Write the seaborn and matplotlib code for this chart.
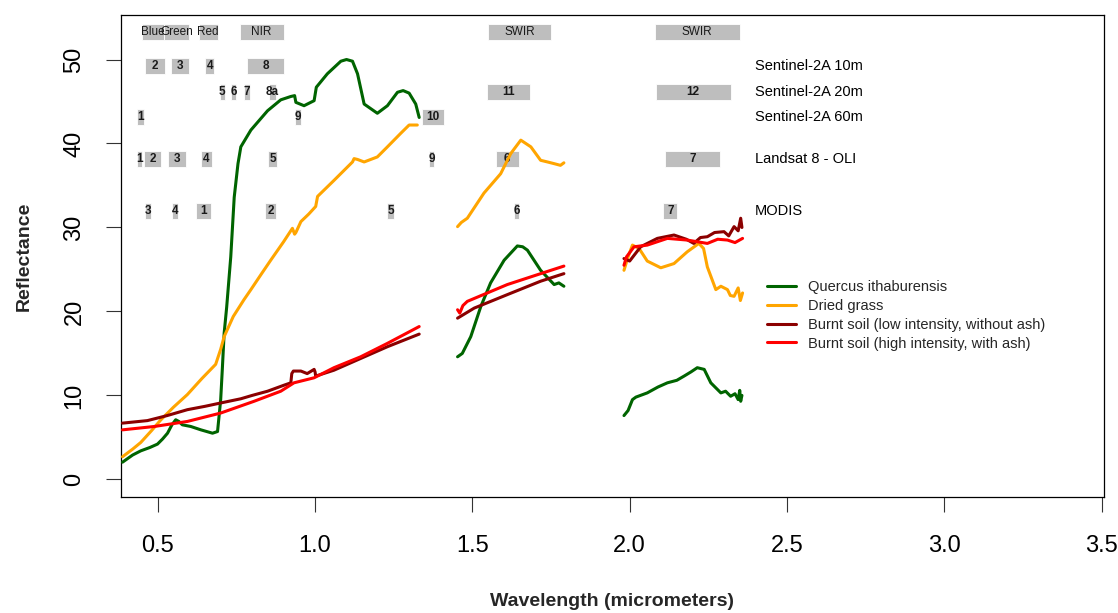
import numpy as np
import pandas as pd
import matplotlib
matplotlib.use("Agg")
import matplotlib.pyplot as plt
from matplotlib.lines import Line2D
import seaborn as sns

# ---------------- data: spectra (wavelength in micrometers, reflectance %) ----------------
quercus_wl1 = [0.388, 0.42, 0.446, 0.475, 0.499, 0.515, 0.531, 0.545, 0.557, 0.567, 0.578, 0.605, 0.637,
               0.674, 0.69, 0.70, 0.705, 0.711, 0.719, 0.732, 0.743, 0.755, 0.764, 0.796, 0.849, 0.891,
               0.923, 0.935, 0.939, 0.965, 0.997, 1.004, 1.039, 1.082, 1.10, 1.119, 1.135, 1.156, 1.198,
               1.23, 1.262, 1.28, 1.299, 1.32, 1.331]
quercus_rf1 = [2.05, 2.9, 3.4, 3.8, 4.2, 4.8, 5.5, 6.5, 7.1, 6.9, 6.5, 6.3, 5.9,
               5.5, 5.7, 9.5, 13.0, 17.4, 20.5, 26.5, 33.6, 37.6, 39.6, 41.6, 43.9, 45.2,
               45.6, 45.7, 44.9, 44.5, 45.1, 46.7, 48.3, 49.8, 50.0, 49.8, 48.3, 44.7, 43.6,
               44.5, 46.1, 46.3, 46.0, 44.7, 43.1]
quercus_wl2 = [1.453, 1.468, 1.495, 1.527, 1.558, 1.601, 1.643, 1.66, 1.675, 1.717, 1.76, 1.775, 1.791]
quercus_rf2 = [14.6, 15.0, 17.0, 20.6, 23.4, 26.1, 27.8, 27.7, 27.3, 24.9, 23.2, 23.4, 23.0]
quercus_wl3 = [1.982, 1.995, 2.009, 2.02, 2.056, 2.09, 2.12, 2.15, 2.173, 2.195, 2.215, 2.237, 2.258,
               2.29, 2.305, 2.321, 2.335, 2.345, 2.35, 2.353, 2.357]
quercus_rf3 = [7.6, 8.2, 9.5, 9.8, 10.3, 11.0, 11.5, 11.8, 12.3, 12.8, 13.3, 13.1, 11.5,
               10.3, 10.5, 9.9, 10.2, 9.5, 10.6, 9.3, 10.0]

grass_wl1 = [0.388, 0.42, 0.446, 0.48, 0.51, 0.55, 0.594, 0.64, 0.684, 0.70, 0.711, 0.74, 0.774, 0.796,
             0.83, 0.859, 0.90, 0.928, 0.935, 0.939, 0.955, 0.98, 1.002, 1.008, 1.06, 1.119, 1.124,
             1.135, 1.156, 1.198, 1.23, 1.272, 1.299, 1.325]
grass_rf1 = [2.7, 3.6, 4.4, 5.8, 7.1, 8.6, 10.1, 12.0, 13.7, 15.5, 17.0, 19.4, 21.4, 22.6,
             24.5, 26.1, 28.3, 29.9, 29.2, 29.4, 30.7, 31.6, 32.5, 33.7, 35.6, 37.8, 38.2,
             38.1, 37.8, 38.4, 39.6, 41.2, 42.2, 42.2]
grass_wl2 = [1.453, 1.465, 1.484, 1.537, 1.59, 1.622, 1.654, 1.686, 1.717, 1.739, 1.76, 1.78, 1.791]
grass_rf2 = [30.1, 30.6, 31.1, 34.1, 36.4, 38.8, 40.4, 39.6, 38.0, 37.8, 37.6, 37.4, 37.7]
grass_wl3 = [1.982, 1.995, 2.009, 2.03, 2.056, 2.099, 2.141, 2.183, 2.22, 2.235, 2.247, 2.274, 2.29,
             2.311, 2.32, 2.332, 2.345, 2.352, 2.359]
grass_rf3 = [24.9, 26.5, 27.9, 27.5, 26.0, 25.2, 25.7, 27.1, 28.1, 27.5, 25.3, 22.6, 23.0,
             22.6, 21.9, 21.8, 22.8, 21.3, 22.2]

low_wl1 = [0.388, 0.467, 0.53, 0.594, 0.65, 0.70, 0.764, 0.80, 0.849, 0.90, 0.923, 0.926, 0.931,
           0.955, 0.975, 0.997, 1.0, 1.002, 1.06, 1.145, 1.23, 1.331]
low_rf1 = [6.7, 7.0, 7.6, 8.3, 8.7, 9.1, 9.6, 10.0, 10.5, 11.2, 11.5, 12.6, 12.9,
           12.9, 12.6, 13.1, 12.8, 12.3, 13.0, 14.4, 15.8, 17.3]
low_wl2 = [1.453, 1.506, 1.611, 1.717, 1.791]
low_rf2 = [19.2, 20.4, 22.0, 23.6, 24.5]
low_wl3 = [1.982, 2.0, 2.035, 2.088, 2.141, 2.18, 2.204, 2.225, 2.247, 2.27, 2.30, 2.315, 2.332,
           2.345, 2.353, 2.357]
low_rf3 = [26.3, 26.0, 27.7, 28.7, 29.1, 28.6, 28.1, 28.8, 28.9, 29.4, 29.5, 29.0, 30.1,
           29.6, 31.1, 30.0]

high_wl1 = [0.388, 0.489, 0.594, 0.70, 0.806, 0.891, 0.933, 0.997, 1.06, 1.145, 1.23, 1.331]
high_rf1 = [5.9, 6.3, 6.9, 7.9, 9.3, 10.5, 11.5, 12.1, 13.3, 14.6, 16.2, 18.2]
high_wl2 = [1.453, 1.46, 1.47, 1.484, 1.611, 1.717, 1.791]
high_rf2 = [20.2, 19.8, 20.7, 21.2, 23.2, 24.5, 25.4]
high_wl3 = [1.982, 1.99, 2.014, 2.056, 2.12, 2.183, 2.247, 2.28, 2.311, 2.335, 2.359]
high_rf3 = [25.5, 26.5, 27.7, 27.9, 28.7, 28.5, 28.1, 28.6, 28.5, 28.2, 28.7]

materials = ["Quercus ithaburensis", "Dried grass",
             "Burnt soil (low intensity, without ash)", "Burnt soil (high intensity, with ash)"]
colors = ["#006400", "#FFA500", "#8B0000", "#FF0000"]

# ---------------- data: sensor bands ----------------
region_labels = ["Blue", "Green", "Red", "NIR", "SWIR", "SWIR"]
region_start = [0.45, 0.52, 0.63, 0.76, 1.55, 2.08]
region_end = [0.52, 0.60, 0.69, 0.90, 1.75, 2.35]

s2_10_labels = ["2", "3", "4", "8"]
s2_10_start = [0.458, 0.543, 0.650, 0.785]
s2_10_end = [0.523, 0.598, 0.680, 0.900]

s2_20_labels = ["5", "6", "7", "8a", "11", "12"]
s2_20_start = [0.698, 0.733, 0.773, 0.855, 1.546, 2.083]
s2_20_end = [0.713, 0.748, 0.793, 0.875, 1.682, 2.321]

s2_60_labels = ["1", "9", "10"]
s2_60_start = [0.435, 0.935, 1.339]
s2_60_end = [0.457, 0.955, 1.410]

l8_labels = ["1", "2", "3", "4", "5", "9", "6", "7"]
l8_start = [0.435, 0.456, 0.533, 0.636, 0.851, 1.362, 1.574, 2.112]
l8_end = [0.449, 0.510, 0.590, 0.673, 0.879, 1.378, 1.648, 2.287]

modis_labels = ["3", "4", "1", "2", "5", "6", "7"]
modis_start = [0.459, 0.545, 0.620, 0.841, 1.230, 1.633, 2.107]
modis_end = [0.479, 0.565, 0.670, 0.876, 1.250, 1.648, 2.152]

sensor_names = ["Sentinel-2A 10m", "Sentinel-2A 20m", "Sentinel-2A 60m", "Landsat 8 - OLI", "MODIS"]
row_levels = [53.3, 49.2, 46.1, 43.2, 38.2, 32.0]   # regions row, then sensors

x_ticks = [0.5, 1.0, 1.5, 2.0, 2.5, 3.0, 3.5]
y_ticks = [0, 10, 20, 30, 40, 50]

# ---------------- build long table ----------------
spectra = {
    materials[0]: [(quercus_wl1, quercus_rf1), (quercus_wl2, quercus_rf2), (quercus_wl3, quercus_rf3)],
    materials[1]: [(grass_wl1, grass_rf1), (grass_wl2, grass_rf2), (grass_wl3, grass_rf3)],
    materials[2]: [(low_wl1, low_rf1), (low_wl2, low_rf2), (low_wl3, low_rf3)],
    materials[3]: [(high_wl1, high_rf1), (high_wl2, high_rf2), (high_wl3, high_rf3)],
}
frames = []
for m, segs in spectra.items():
    for i, (wl, rf) in enumerate(segs):
        frames.append(pd.DataFrame({"wl": wl, "rf": rf, "material": m, "seg": f"{m}-{i}"}))
df = pd.concat(frames, ignore_index=True)

# ---------------- plot ----------------
sns.set_style("white")
plt.rcParams["font.family"] = ["Liberation Sans", "DejaVu Sans"]

fig = plt.figure(figsize=(11.18, 6.13), dpi=100)
ax = fig.add_axes([0.1082, 0.1892, 0.8793, 0.7863])

band_rows = [
    (region_labels, region_start, region_end, row_levels[0], False),
    (s2_10_labels, s2_10_start, s2_10_end, row_levels[1], True),
    (s2_20_labels, s2_20_start, s2_20_end, row_levels[2], True),
    (s2_60_labels, s2_60_start, s2_60_end, row_levels[3], True),
    (l8_labels, l8_start, l8_end, row_levels[4], True),
    (modis_labels, modis_start, modis_end, row_levels[5], True),
]
for labels, starts, ends, lvl, bold in band_rows:
    widths = np.array(ends) - np.array(starts)
    ax.barh([lvl] * len(labels), widths, left=starts, height=1.9, color="#BEBEBE",
            edgecolor="white", linewidth=0.6, zorder=1)
    for lab, s, e in zip(labels, starts, ends):
        ax.text((s + e) / 2, lvl, lab, ha="center", va="center",
                fontsize=8.5, fontweight="bold" if bold else "normal",
                color="#1a1a1a", zorder=2)

for name, lvl in zip(sensor_names, row_levels[1:]):
    ax.text(2.398, lvl, name, ha="left", va="center", fontsize=10.5, color="black", zorder=2)

sns.lineplot(data=df, x="wl", y="rf", hue="material", hue_order=materials,
             palette=colors, units="seg", estimator=None, sort=False,
             linewidth=2.2, legend=False, ax=ax, zorder=3)

ax.set_xlim(0.383, 3.508)
ax.set_ylim(-2.1, 55.3)
ax.set_xticks(x_ticks)
ax.set_xticklabels([f"{t:.1f}" for t in x_ticks])
ax.set_yticks(y_ticks)
ax.set_yticklabels([str(t) for t in y_ticks], rotation=90, va="center")
ax.tick_params(axis="both", direction="out", length=10.5, width=0.8, color="#333333",
               labelsize=17, labelcolor="black")
ax.tick_params(axis="x", pad=17)
ax.tick_params(axis="y", pad=15)
ax.tick_params(left=True, bottom=True)
for sp in ax.spines.values():
    sp.set_visible(True)
    sp.set_color("black")
    sp.set_linewidth(0.9)

ax.set_xlabel("Wavelength (micrometers)", fontsize=14, fontweight="bold", labelpad=26)
ax.set_ylabel("Reflectance", fontsize=14, fontweight="bold", labelpad=22)

handles = [Line2D([0], [0], color=c, lw=2.2) for c in colors]
ax.legend(handles, materials, loc="upper left", bbox_to_anchor=(0.657, 0.45),
          frameon=False, fontsize=10.5, handlelength=2.0, handletextpad=0.8,
          labelspacing=0.33, borderpad=0, borderaxespad=0)

fig.savefig("out.png", dpi=100)
